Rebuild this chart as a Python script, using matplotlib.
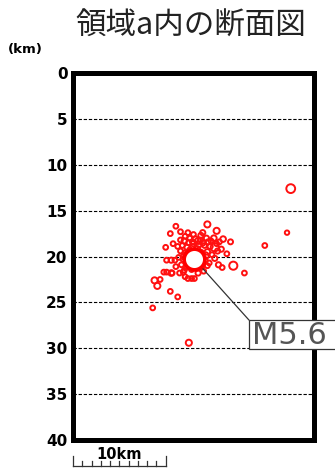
import matplotlib.pyplot as plt
from matplotlib.patches import Rectangle

plt.rcParams['font.family'] = ['DejaVu Sans']

# hypocentres: distance along section (km), depth (km), magnitude
xs = [14.5, 15.5, 11.1, 11.6, 10.5, 23.1, 20.7, 15.3, 16.2, 17.0,
      16.6, 17.3, 18.5, 15.7, 16.1, 10.0, 8.8, 9.1, 9.4, 10.5,
      11.3, 8.6, 12.5, 10.1, 10.6, 12.1, 12.4, 12.8, 13.1, 11.9,
      23.5, 12.1, 12.5, 13.8, 10.8, 11.3, 10.6, 11.0, 10.1, 11.1,
      10.7, 9.8, 11.5,
      12.0, 12.6, 13.2, 13.8, 14.4, 14.9, 15.2, 11.8, 12.3, 12.9,
      13.6, 14.2, 14.8, 15.5, 11.6, 12.1, 12.7, 14.5, 15.0, 15.6,
      11.4, 11.9, 12.4, 14.2, 14.7, 15.3, 11.7, 12.2, 12.7, 13.3,
      13.9, 14.5, 12.0, 13.5, 14.1, 13.0, 14.0, 12.4, 15.8, 16.0,
      12.2, 12.5, 13.8, 13.9, 12.6, 13.6, 14.3, 11.9, 13.0, 13.4,
      12.8, 14.0, 12.9, 13.5, 14.6, 11.6]
depths = [16.5, 17.2, 16.7, 17.3, 17.5, 17.4, 18.8, 19.0, 18.1, 18.4,
          19.7, 21.0, 21.8, 20.9, 21.2, 19.0, 22.6, 23.2, 22.5, 23.8,
          24.4, 25.6, 29.4, 21.7, 21.8, 22.2, 22.4, 22.4, 22.4, 21.7,
          12.6, 17.8, 18.5, 17.7, 18.6, 18.9, 20.4, 20.4, 20.4, 21.1,
          21.8, 21.7, 21.8,
          18.3, 18.0, 18.1, 18.2, 18.0, 18.3, 18.0, 18.8, 19.0, 18.9,
          18.7, 18.8, 18.9, 18.6, 19.4, 19.6, 19.5, 19.5, 19.8, 19.4,
          20.1, 20.3, 20.6, 20.4, 20.7, 20.2, 20.9, 21.2, 21.0, 21.3,
          21.1, 21.0, 21.5, 21.8, 21.6, 17.6, 17.4, 17.4, 18.4, 19.2,
          19.8, 20.8, 19.6, 20.9, 19.3, 21.2, 19.9, 20.0, 18.6, 19.2,
          21.4, 18.5, 18.4, 18.3, 18.4, 18.2]
mags = [2.6, 2.6, 2.0, 2.0, 2.0, 1.8, 2.0, 3.3, 2.4, 2.1,
        2.0, 3.3, 2.0, 2.2, 2.0, 2.0, 2.6, 2.6, 2.0, 2.0,
        2.0, 2.0, 2.6, 2.0, 2.4, 2.0, 2.0, 2.0, 2.0, 2.0,
        3.5, 2.0, 2.0, 2.2, 2.0, 2.0, 2.2, 2.0, 2.0, 2.0,
        2.0, 2.0, 2.0,
        2.2, 2.0, 2.4, 2.0, 2.2, 2.0, 2.4, 2.0, 2.2, 2.0,
        2.4, 2.0, 2.2, 2.0, 2.0, 2.2, 2.0, 2.4, 2.0, 2.2,
        2.0, 2.2, 2.0, 2.6, 2.0, 2.2, 2.0, 2.0, 2.2, 2.0,
        2.2, 2.0, 2.0, 2.2, 2.0, 2.0, 2.2, 2.0, 2.0, 2.2,
        2.4, 2.2, 2.6, 2.4, 2.2, 2.4, 2.8, 2.2, 2.4, 2.6,
        2.2, 2.4, 2.2, 2.6, 2.2, 2.0]

main_x, main_depth, main_mag = 13.1, 20.3, 5.6
main_label = 'M5.6'

title = '領域a内の断面図'
yticks = [0, 5, 10, 15, 20, 25, 30, 35, 40]
scale_km = 10


def msize(m):
    # marker diameter in points, grows with magnitude
    d_px = 3.2 * 1.5 ** (m - 1)
    return (d_px * 0.72) ** 2


fig = plt.figure(figsize=(3.35, 4.69), dpi=100)
ax = fig.add_axes([0.218, 0.0618, 0.719, 0.7825])

ax.set_xlim(0, 26)
ax.set_ylim(40, 0)
ax.set_xticks([])
ax.set_yticks(yticks)
ax.set_yticklabels([str(t) for t in yticks], fontsize=11, fontweight='bold')
ax.tick_params(axis='y', length=0, pad=4)

for d in yticks[1:-1]:
    ax.axhline(d, color='black', lw=0.8, ls=(0, (3, 1.6)), zorder=1)

for s in ax.spines.values():
    s.set_linewidth(3.6)
    s.set_capstyle('projecting')

ax.scatter(xs, depths, s=[msize(m) for m in mags], facecolors='none',
           edgecolors='#ff1010', linewidths=1.4, zorder=3)

# annotation line and box
lab_x, lab_top, lab_bot = 18.97, 26.9, 30.1
ax.plot([main_x, lab_x], [main_depth, lab_top], color='#333333', lw=0.9,
        zorder=4, clip_on=False)
ax.add_patch(Rectangle((lab_x, lab_top), 12, lab_bot - lab_top,
                       facecolor='white', edgecolor='#333333', lw=0.9,
                       zorder=5, clip_on=False))
ax.text(lab_x + 0.4, (lab_top + lab_bot) / 2 + 0.1, main_label, fontsize=22,
        color='#555555', ha='left', va='center', zorder=6, clip_on=False)

ax.scatter([main_x], [main_depth], s=msize(main_mag), facecolors='white',
           edgecolors='red', linewidths=2.6, zorder=7)

# scale bar under the section
ax.plot([0, scale_km], [42.8, 42.8], color='#333333', lw=0.9, clip_on=False)
for k in range(scale_km + 1):
    top = 41.7 if k in (0, scale_km) else 42.3
    ax.plot([k, k], [top, 42.8], color='#333333', lw=0.9, clip_on=False)
ax.text(scale_km / 2, 41.55, f'{scale_km}km', fontsize=10.5, fontweight='bold',
        ha='center', va='center', clip_on=False)

fig.text(191 / 335, 1 - 26 / 469, title, fontsize=22, color='#222222',
         family=['Noto Sans CJK JP', 'DejaVu Sans'], ha='center', va='center')
fig.text(25 / 335, 1 - 49 / 469, '(km)', fontsize=9.5, fontweight='bold',
         ha='center', va='center')

fig.savefig('out.png', dpi=100)
